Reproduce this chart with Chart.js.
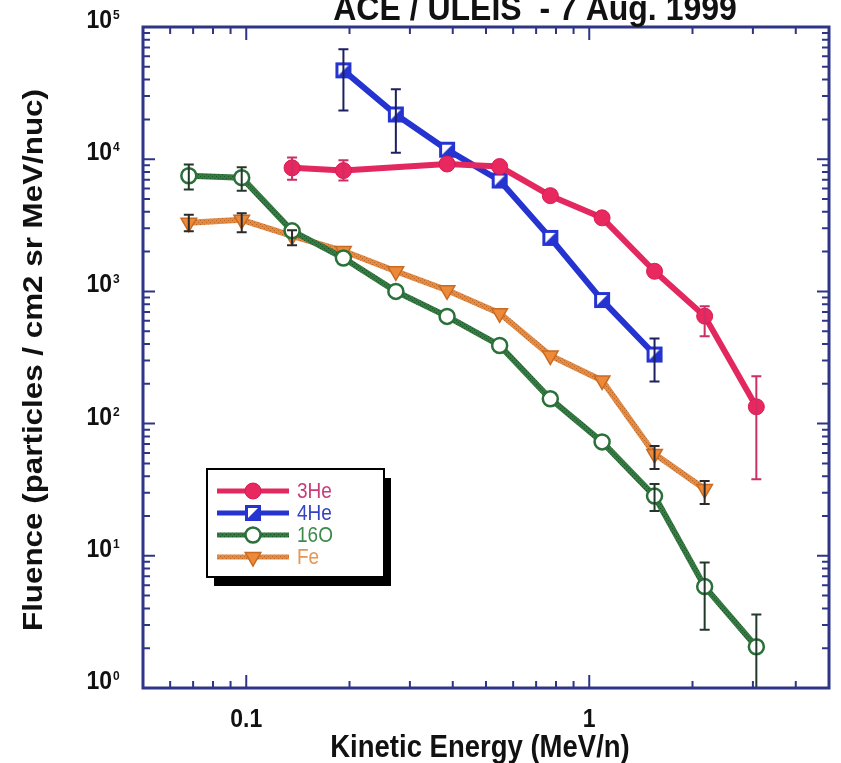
<!DOCTYPE html>
<html>
<head>
<meta charset="utf-8">
<script src="https://cdn.jsdelivr.net/npm/chart.js@4.4.1/dist/chart.umd.min.js"></script>
<style>
  html, body { margin: 0; padding: 0; background: #fff; }
</style>
</head>
<body>
<canvas id="chart" width="841" height="763"></canvas>
<script>
// kinetic energy bins (MeV/n)
const energy = [0.068, 0.097, 0.136, 0.192, 0.273, 0.385, 0.548, 0.77, 1.09, 1.55, 2.17, 3.07];

// fluence per species, null where there is no point
const he3 = [null, null, 8600, 8200, null, 9200, 8800, 5300, 3600, 1420, 650, 134];
const he4 = [null, null, null, 47000, 21800, 11800, 6900, 2540, 860, 333, null, null];
const o16 = [7500, 7250, 2870, 1790, 1000, 647, 390, 154, 72.7, 28.3, 5.85, 2.05];
const fe  = [3300, 3480, 2630, 2020, 1420, 1020, 683, 327, 212, 59, 32, null];

// error bar ends [low, high], null where the bar hides behind the marker
const he3Err = [null, null, [7000, 10300], [6900, 9800], null, null, null, null, null, null, [457, 771], [38, 228]];
const he4Err = [null, null, null, [23400, 68000], [11200, 33800], null, null, null, null, [208, 441], null, null];
const o16Err = [[5900, 9100], [5760, 8700], null, null, null, null, null, null, null, [21.8, 34.9], [2.76, 8.9], [0.5, 3.59]];
const feErr  = [[2850, 3800], [2800, 3900], [2230, 2900], null, null, null, null, null, null, [45.4, 67.8], [24.6, 36.8], null];

// axis ticks
const yDecades = [1, 10, 100, 1000, 10000, 100000];
const xMajor = [0.1, 1];
const xMinor = [0.06, 0.07, 0.08, 0.09, 0.2, 0.3, 0.4, 0.5, 0.6, 0.7, 0.8, 0.9, 2, 3, 4];
const xLabels = ['0.1', '1'];

const FONT = '"Liberation Sans", Arial, Helvetica, sans-serif';
const STRETCH = 1.12; // the original picture is a bit taller than wide
const FRAME = '#2e3486';

function points(vals, errs) {
    const out = [];
    vals.forEach((v, i) => {
        if (v === null) return;
        const e = errs[i];
        out.push({ x: energy[i], y: v, lo: e ? e[0] : null, hi: e ? e[1] : null });
    });
    return out;
}

function hatch(base, dot) {
    const c = document.createElement('canvas');
    c.width = 4; c.height = 4;
    const g = c.getContext('2d');
    g.fillStyle = base; g.fillRect(0, 0, 4, 4);
    g.fillStyle = dot; g.fillRect(0, 0, 1, 1); g.fillRect(2, 2, 1, 1);
    return g.createPattern(c, 'repeat');
}

// half filled square for 4He
function halfSquare() {
    const c = document.createElement('canvas');
    c.width = 18; c.height = 18;
    const g = c.getContext('2d');
    g.fillStyle = '#fff'; g.fillRect(2, 2, 14, 14);
    g.fillStyle = '#2533d0';
    g.beginPath(); g.moveTo(2, 16); g.lineTo(16, 16); g.lineTo(16, 2); g.closePath(); g.fill();
    g.strokeStyle = '#2533d0'; g.lineWidth = 3;
    g.strokeRect(2.5, 2.5, 13, 13);
    return c;
}

function text(ctx, str, x, y, size, opts) {
    opts = opts || {};
    ctx.save();
    ctx.translate(x, y);
    ctx.scale(1, STRETCH);
    if (opts.rotate) ctx.rotate(-Math.PI / 2);
    ctx.font = (opts.weight || 'bold') + ' ' + size + 'px ' + FONT;
    ctx.fillStyle = opts.color || '#111';
    ctx.textAlign = opts.align || 'center';
    ctx.textBaseline = opts.baseline || 'alphabetic';
    ctx.fillText(str, 0, 0);
    ctx.restore();
}

const ctx = document.getElementById('chart').getContext('2d');

const datasets = [
    {
        label: '3He', data: points(he3, he3Err),
        borderColor: '#e2285f', backgroundColor: '#e2285f', borderWidth: 6,
        pointStyle: 'circle', pointRadius: 8, pointBackgroundColor: '#e8285f', pointBorderColor: '#d21f55', pointBorderWidth: 1,
        errColor: '#cc2e66', textColor: '#c93a78'
    },
    {
        label: '4He', data: points(he4, he4Err),
        borderColor: '#2533d0', backgroundColor: '#2533d0', borderWidth: 6,
        pointStyle: halfSquare(), pointRadius: 9,
        errColor: '#1c2060', textColor: '#3443c4'
    },
    {
        label: '16O', data: points(o16, o16Err),
        borderColor: hatch('#2f7d3f', '#1d5428'), backgroundColor: '#2f7d3f', borderWidth: 6,
        pointStyle: 'circle', pointRadius: 7.5, pointBackgroundColor: '#fff', pointBorderColor: '#2a7039', pointBorderWidth: 2.5,
        errColor: '#22392a', textColor: '#3d8a4c'
    },
    {
        label: 'Fe', data: points(fe, feErr),
        borderColor: hatch('#e8893c', '#b8672a'), backgroundColor: '#e8893c', borderWidth: 6,
        pointStyle: 'triangle', rotation: 180, pointRadius: 9, pointBackgroundColor: '#ec8a3a', pointBorderColor: '#c96a22', pointBorderWidth: 1.5,
        errColor: '#2a2a2a', textColor: '#e49655'
    }
];
datasets.forEach(ds => {
    ds.borderJoinStyle = 'round';
    ds.borderCapStyle = 'round';
    ds.fill = false;
    ds.tension = 0;
});

const errorBars = {
    id: 'errorBars',
    afterDatasetsDraw(chart) {
        const { ctx, chartArea, scales } = chart;
        ctx.save();
        ctx.beginPath();
        ctx.rect(chartArea.left, chartArea.top, chartArea.width, chartArea.height);
        ctx.clip();
        chart.data.datasets.forEach((ds, di) => {
            const meta = chart.getDatasetMeta(di);
            ds.data.forEach((p, k) => {
                if (p.lo === null) return;
                const x = meta.data[k].x;
                const y1 = scales.y.getPixelForValue(p.lo);
                const y2 = scales.y.getPixelForValue(p.hi);
                ctx.strokeStyle = ds.errColor;
                ctx.lineWidth = 2;
                ctx.beginPath();
                ctx.moveTo(x, y1); ctx.lineTo(x, y2);
                ctx.moveTo(x - 5, y1); ctx.lineTo(x + 5, y1);
                ctx.moveTo(x - 5, y2); ctx.lineTo(x + 5, y2);
                ctx.stroke();
            });
        });
        ctx.restore();
    }
};

const frame = {
    id: 'frame',
    afterDraw(chart) {
        const { ctx, chartArea: a, scales } = chart;
        ctx.save();
        ctx.strokeStyle = FRAME;
        ctx.lineWidth = 2;
        ctx.beginPath();
        // y ticks, left and right, pointing in
        yDecades.forEach((d, i) => {
            const y = scales.y.getPixelForValue(d);
            ctx.moveTo(a.left, y); ctx.lineTo(a.left + 12, y);
            ctx.moveTo(a.right, y); ctx.lineTo(a.right - 12, y);
            if (i < yDecades.length - 1) {
                for (let m = 2; m <= 9; m++) {
                    const ym = scales.y.getPixelForValue(m * d);
                    ctx.moveTo(a.left, ym); ctx.lineTo(a.left + 7, ym);
                    ctx.moveTo(a.right, ym); ctx.lineTo(a.right - 7, ym);
                }
            }
        });
        // x ticks, bottom and top
        xMajor.forEach(v => {
            const x = scales.x.getPixelForValue(v);
            ctx.moveTo(x, a.bottom); ctx.lineTo(x, a.bottom - 13);
            ctx.moveTo(x, a.top); ctx.lineTo(x, a.top + 13);
        });
        xMinor.forEach(v => {
            const x = scales.x.getPixelForValue(v);
            ctx.moveTo(x, a.bottom); ctx.lineTo(x, a.bottom - 7);
            ctx.moveTo(x, a.top); ctx.lineTo(x, a.top + 7);
        });
        ctx.stroke();
        ctx.lineWidth = 3;
        ctx.strokeRect(a.left, a.top, a.right - a.left, a.bottom - a.top);
        ctx.restore();

        // y tick labels 10^n
        yDecades.forEach((d, i) => {
            const y = scales.y.getPixelForValue(d);
            text(ctx, '10', 112, y + 1, 23, { align: 'right' });
            text(ctx, String(i), 113, y - 8, 12, { align: 'left' });
        });
        // x tick labels
        xMajor.forEach((v, i) => {
            text(ctx, xLabels[i], scales.x.getPixelForValue(v), 727, 23);
        });

        // titles
        text(ctx, 'ACE / ULEIS  - 7 Aug. 1999', 535, 20, 32);
        text(ctx, 'Kinetic Energy (MeV/n)', 480, 757, 27.5);
        text(ctx, 'Fluence (particles / cm2 sr MeV/nuc)', 34, 360, 28, { rotate: true, baseline: 'middle' });
    }
};

const legendBox = {
    id: 'legendBox',
    afterDraw(chart) {
        const { ctx } = chart;
        const bx = 207, by = 469, bw = 177, bh = 108;
        ctx.save();
        ctx.fillStyle = '#000';
        ctx.fillRect(bx + 7, by + 9, bw, bh);
        ctx.fillStyle = '#fff';
        ctx.fillRect(bx, by, bw, bh);
        ctx.strokeStyle = '#000';
        ctx.lineWidth = 2;
        ctx.strokeRect(bx, by, bw, bh);

        chart.data.datasets.forEach((ds, i) => {
            const y = 491 + i * 22;
            ctx.strokeStyle = ds.borderColor;
            ctx.lineWidth = 5;
            ctx.beginPath();
            ctx.moveTo(217, y); ctx.lineTo(289, y);
            ctx.stroke();
            if (typeof ds.pointStyle === 'string') {
                ctx.fillStyle = ds.pointBackgroundColor;
                ctx.strokeStyle = ds.pointBorderColor;
                ctx.lineWidth = ds.pointBorderWidth;
                Chart.helpers.drawPoint(ctx, {
                    pointStyle: ds.pointStyle, radius: ds.pointRadius,
                    rotation: ds.rotation || 0, borderWidth: ds.pointBorderWidth
                }, 253, y);
            } else {
                ctx.drawImage(ds.pointStyle, 253 - 9, y - 9);
            }
            text(ctx, ds.label, 297, y + 7, 19, { align: 'left', weight: 'normal', color: ds.textColor });
        });
        ctx.restore();
    }
};

new Chart(ctx, {
    type: 'line',
    data: { datasets: datasets },
    options: {
        responsive: false,
        animation: false,
        layout: { autoPadding: false, padding: { left: 143, right: 12, top: 27, bottom: 75 } },
        scales: {
            x: { type: 'logarithmic', min: 0.05, max: 5, display: false },
            y: { type: 'logarithmic', min: 1, max: 100000, display: false }
        },
        plugins: {
            legend: { display: false },
            tooltip: { enabled: false },
            title: { display: false }
        }
    },
    plugins: [errorBars, frame, legendBox]
});
</script>
</body>
</html>
